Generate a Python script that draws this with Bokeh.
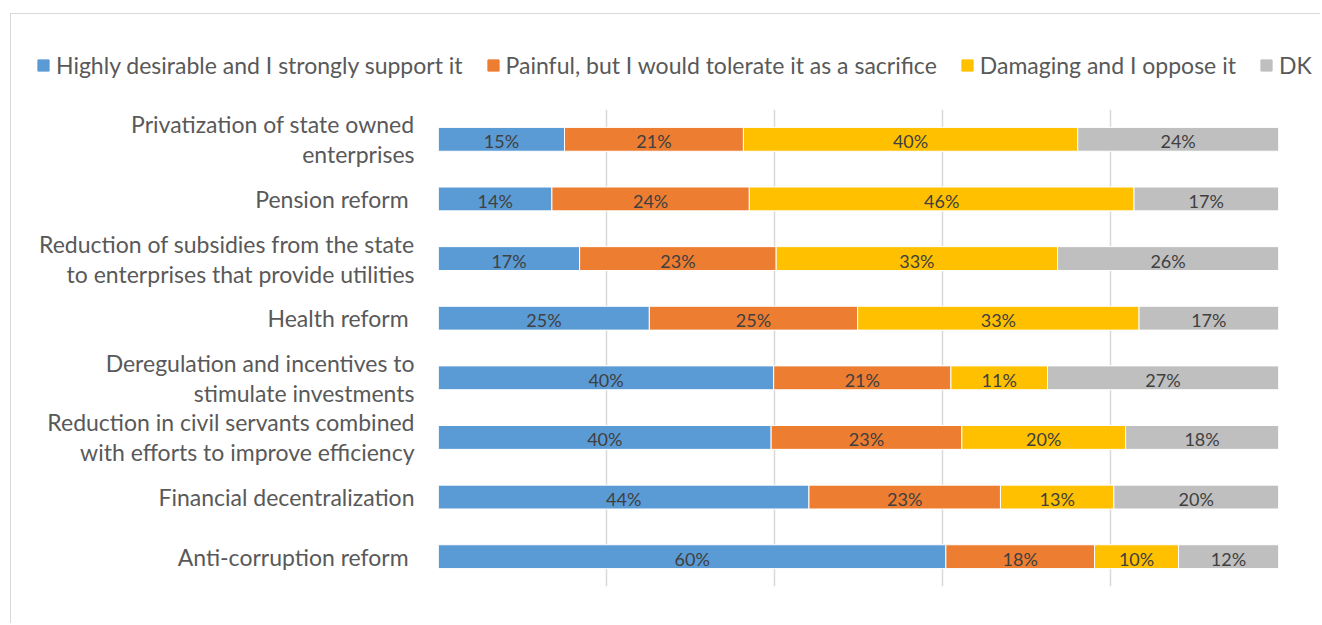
from bokeh.plotting import figure
from bokeh.models import ColumnDataSource, Legend, LegendItem, FixedTicker, FactorRange
from bokeh.core.properties import value
from bokeh.embed import file_html
from bokeh.resources import INLINE

categories = [
    "Privatization of state owned\nenterprises",
    "Pension reform ",
    "Reduction of subsidies from the state\nto enterprises that provide utilities",
    "Health reform ",
    "Deregulation and incentives to\nstimulate investments",
    "Reduction in civil servants combined\nwith efforts to improve efficiency",
    "Financial decentralization",
    "Anti-corruption reform ",
]
series_names = [
    "Highly desirable and I strongly support it",
    "Painful, but I would tolerate it as a sacrifice",
    "Damaging and I oppose it",
    "DK",
]
highly = [15.0, 13.5, 16.8, 25.1, 39.9, 39.6, 44.1, 60.4]
painful = [21.3, 23.5, 23.4, 24.8, 21.1, 22.7, 22.8, 17.7]
damaging = [39.8, 45.8, 33.5, 33.5, 11.5, 19.5, 13.5, 10.0]
dk = [23.9, 17.2, 26.3, 16.6, 27.5, 18.2, 19.6, 11.9]

highly_lbl = [15, 14, 17, 25, 40, 40, 44, 60]
painful_lbl = [21, 24, 23, 25, 21, 23, 23, 18]
damaging_lbl = [40, 46, 33, 33, 11, 20, 13, 10]
dk_lbl = [24, 17, 26, 17, 27, 18, 20, 12]

colors = ["#5B9BD5", "#ED7D31", "#FFC000", "#BFBFBF"]
FONT = "Lato"

keys = ["highly", "painful", "damaging", "dk"]
src = ColumnDataSource(dict(cat=categories, highly=highly, painful=painful,
                            damaging=damaging, dk=dk))

W = 1310
TOP_H = 96
MAIN_H = 514
BORDER = "1px solid #d9d9d9"

# ---- legend strip (its own root figure so the legend is not clipped) ----
pl = figure(width=W, height=TOP_H, x_range=(0, 1), y_range=(0, 1),
            x_axis_type=None, y_axis_type=None, output_backend="svg",
            toolbar_location=None, min_border=0)
pl.styles = {"margin-left": "10px", "margin-top": "13px",
             "border-left": BORDER, "border-top": BORDER}
pl.grid.visible = False
pl.outline_line_color = None
# off-view swatch glyphs that only feed the legend
dummies = [pl.hbar(y=[-5], left=[-6], right=[-5], height=0.1, color=c) for c in colors]
legend = Legend(items=[LegendItem(label=n, renderers=[r]) for n, r in zip(series_names, dummies)],
                location=(25, 31), orientation="horizontal", padding=0, margin=0,
                spacing=23, border_line_color=None, background_fill_alpha=0,
                glyph_width=14, glyph_height=14, label_standoff=6,
                label_text_font=FONT, label_text_font_size="23px",
                label_text_color="#595959", label_height=14)
pl.add_layout(legend, "center")

# ---- main chart ----
p = figure(y_range=FactorRange(*list(reversed(categories))), x_range=(0, 100),
           width=W, height=MAIN_H, output_backend="svg", toolbar_location=None,
           min_border_left=427, min_border_right=43, min_border_top=0,
           min_border_bottom=37)
p.styles = {"margin-left": "10px", "border-left": BORDER}

rends = p.hbar_stack(keys, y="cat", height=0.4, color=colors, source=src,
                     line_color="white", line_width=1)

vals = [highly, painful, damaging, dk]
lbls = [highly_lbl, painful_lbl, damaging_lbl, dk_lbl]
xs, ys, ts = [], [], []
for i, c in enumerate(categories):
    start = 0.0
    for s in range(4):
        v = vals[s][i]
        xs.append(start + v / 2.0)
        ys.append(c)
        ts.append(f"{lbls[s][i]}%")
        start += v
lsrc = ColumnDataSource(dict(x=xs, y=ys, t=ts))
p.text(x="x", y="y", text="t", source=lsrc, text_align="center",
       text_baseline="middle", text_font=value(FONT), text_font_size="18px",
       text_color="#404040", y_offset=2)

p.xaxis.visible = False
p.xaxis.ticker = FixedTicker(ticks=[0, 20, 40, 60, 80, 100])
p.xgrid.ticker = FixedTicker(ticks=[0, 20, 40, 60, 80, 100])
p.xgrid.grid_line_color = "#d9d9d9"
p.xgrid.grid_line_width = 1.5
p.ygrid.grid_line_color = None
p.yaxis.axis_line_color = None
p.yaxis.major_tick_line_color = None
p.yaxis.minor_tick_line_color = None
p.yaxis.major_tick_out = 0
p.yaxis.major_label_standoff = 24
p.yaxis.major_label_text_font = FONT
p.yaxis.major_label_text_font_size = "23px"
p.yaxis.major_label_text_color = "#595959"
p.yaxis.major_label_text_line_height = 1.07
p.outline_line_color = None

open("out.html", "w").write(file_html([pl, p], INLINE))
